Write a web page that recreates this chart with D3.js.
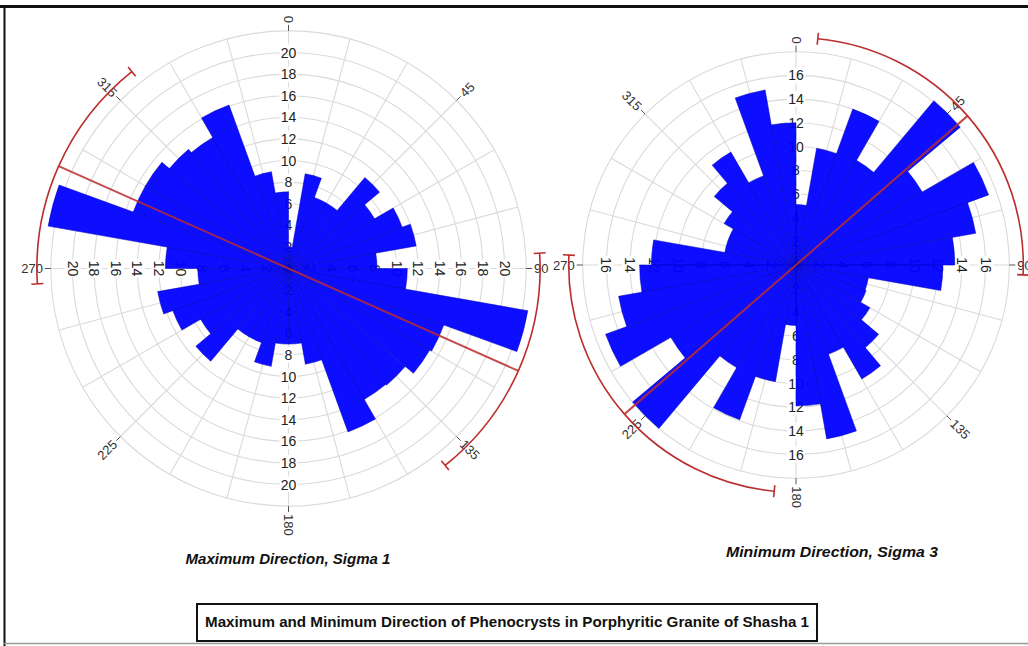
<!DOCTYPE html>
<html>
<head>
<meta charset="utf-8">
<script src="https://cdn.jsdelivr.net/npm/d3@7"></script>
<style>
  body { margin: 0; background: #fff; }
  svg { display: block; font-family: "Liberation Sans", Arial, sans-serif; }
</style>
</head>
<body>
<div id="chart"></div>
<script>
// rose diagram delle direzioni dei fenocristalli - classi da 10 gradi
const binStart = [0, 10, 20, 30, 40, 50, 60, 70, 80, 90, 100, 110, 120, 130, 140, 150, 160, 170,
                  180, 190, 200, 210, 220, 230, 240, 250, 260, 270, 280, 290, 300, 310, 320, 330, 340, 350];

// sigma 1 (direzione massima)
const sigma1Counts = [2, 8.9, 7, 7, 11, 9.2, 11.2, 12, 8.2, 11, 22.5, 15.3, 15.1, 14.1, 14, 16.1, 9, 7,
                      7, 9.2, 7.3, 7.3, 11.2, 9.4, 11.4, 12.3, 8.4, 11.4, 22.6, 15.3, 15.3, 14.4, 14, 16.1, 9.1, 7.1];
// sigma 3 (direzione minima)
const sigma3Counts = [5.1, 10, 14, 10.2, 18.1, 12.3, 17.3, 15.4, 13.4, 12.4, 6.2, 6.3, 7.2, 9.1, 11.1, 8, 14.9, 11.9,
                      5.1, 10, 13.9, 10, 18, 12.2, 17.1, 15.2, 13.2, 12.2, 6.1, 6.1, 7, 9, 11, 8, 15, 12];

const sigma1Ticks = [2, 4, 6, 8, 10, 12, 14, 16, 18, 20];
const sigma3Ticks = [2, 4, 6, 8, 10, 12, 14, 16];
const compassLabels = [0, 45, 90, 135, 180, 225, 270, 315];

// direzione media e intervallo di confidenza (gradi)
const sigma1Mean = 114, sigma1Conf = 27.5;
const sigma3Mean = 49,  sigma3Conf = 43.5;

const captions = ['Maximum Direction, Sigma 1', 'Minimum Direction, Sigma 3'];
const mainTitle = 'Maximum and Minimum Direction of Phenocrysts in Porphyritic Granite of Shasha 1';

const width = 1028, height = 646;
const svg = d3.select('#chart').append('svg')
    .attr('width', width)
    .attr('height', height);

// cornice
svg.append('line').attr('x1', 0).attr('x2', width).attr('y1', 6.5).attr('y2', 6.5)
    .attr('stroke', '#111').attr('stroke-width', 3);
svg.append('line').attr('x1', 4.5).attr('x2', 4.5).attr('y1', 6).attr('y2', height)
    .attr('stroke', '#111').attr('stroke-width', 2);
svg.append('line').attr('x1', 4).attr('x2', width).attr('y1', 643.5).attr('y2', 643.5)
    .attr('stroke', '#999').attr('stroke-width', 1.5);

const rad = d => d * Math.PI / 180;
const pt = (deg, rr) => [Math.sin(rad(deg)) * rr, -Math.cos(rad(deg)) * rr];

function drawRose(cfg) {
    const g = svg.append('g').attr('transform', `translate(${cfg.cx},${cfg.cy})`);
    const r = d3.scaleLinear().domain([0, cfg.max]).range([0, cfg.radius]);
    const R = r(cfg.max);
    const rArc = R + 14;

    // griglia: cerchi ogni 2 unità, raggi ogni 15°
    g.append('g').selectAll('circle')
        .data(d3.range(2, cfg.max + 1, 2))
        .join('circle')
        .attr('r', d => r(d))
        .attr('fill', 'none')
        .attr('stroke', '#dadada')
        .attr('stroke-width', 1.1);

    g.append('g').selectAll('line')
        .data(d3.range(0, 360, 15))
        .join('line')
        .attr('x1', 0).attr('y1', 0)
        .attr('x2', d => pt(d, R)[0])
        .attr('y2', d => pt(d, R)[1])
        .attr('stroke', '#dadada')
        .attr('stroke-width', 1.1);

    // etichette azimut con tacca - testo lungo il raggio
    const az = g.append('g');
    compassLabels.forEach(a => {
        const p0 = pt(a, R), p1 = pt(a, R + 6), pl = pt(a, R + 8);
        az.append('line')
            .attr('x1', p0[0]).attr('y1', p0[1])
            .attr('x2', p1[0]).attr('y2', p1[1])
            .attr('stroke', '#555').attr('stroke-width', 1);
        const outward = a <= 180;
        const rot = outward ? a - 90 : a - 270;
        az.append('text')
            .attr('transform', `translate(${pl[0]},${pl[1]}) rotate(${rot})`)
            .attr('text-anchor', outward ? 'start' : 'end')
            .attr('dominant-baseline', 'central')
            .attr('font-size', 13)
            .attr('fill', '#333')
            .text(a);
    });

    // etichette radiali sui 4 assi (sotto le barre)
    const lab = g.append('g');
    const axes = [
        { f: t => [0, -r(t)], rot: 0 },
        { f: t => [r(t), 0], rot: 90 },
        { f: t => [0, r(t)], rot: 0 },
        { f: t => [-r(t), 0], rot: 90 }
    ];
    axes.forEach(ax => {
        cfg.ticks.forEach(t => {
            const [x, y] = ax.f(t);
            const tg = lab.append('g').attr('transform', `translate(${x},${y}) rotate(${ax.rot})`);
            const w = String(t).length * 8 + 2;
            tg.append('rect')
                .attr('x', -w / 2).attr('y', -8)
                .attr('width', w).attr('height', 16)
                .attr('fill', '#fff');
            tg.append('text')
                .attr('text-anchor', 'middle')
                .attr('dominant-baseline', 'central')
                .attr('font-size', 14)
                .attr('fill', '#222')
                .text(t);
        });
    });

    // barre
    const arc = d3.arc()
        .innerRadius(0)
        .outerRadius(d => r(d.v))
        .startAngle(d => rad(d.a))
        .endAngle(d => rad(d.a + 10));

    g.append('g').selectAll('path')
        .data(binStart.map((a, i) => ({ a: a, v: cfg.counts[i] })))
        .join('path')
        .attr('d', arc)
        .attr('fill', '#0000ff')
        .attr('fill-opacity', 0.95)
        .attr('stroke', '#0000b8')
        .attr('stroke-width', 0.5);

    // direzione media + archi di confidenza
    const red = g.append('g').attr('stroke', '#bb2d2d').attr('fill', 'none');
    const e1 = pt(cfg.mean, rArc), e2 = pt(cfg.mean + 180, rArc);
    red.append('line')
        .attr('x1', e1[0]).attr('y1', e1[1])
        .attr('x2', e2[0]).attr('y2', e2[1])
        .attr('stroke-width', 2)
        .attr('stroke-opacity', 0.85);

    [cfg.mean, cfg.mean + 180].forEach(m => {
        const p = d3.path();
        p.arc(0, 0, rArc, rad(m - cfg.conf) - Math.PI / 2, rad(m + cfg.conf) - Math.PI / 2);
        red.append('path').attr('d', p.toString()).attr('stroke-width', 1.6);
        [m - cfg.conf, m + cfg.conf].forEach(e => {
            const a0 = pt(e, rArc - 6), a1 = pt(e, rArc + 6);
            red.append('line')
                .attr('x1', a0[0]).attr('y1', a0[1])
                .attr('x2', a1[0]).attr('y2', a1[1])
                .attr('stroke-width', 1.6);
        });
    });
}

drawRose({ cx: 288.5, cy: 268.5, max: 22, radius: 237.6, counts: sigma1Counts,
           ticks: sigma1Ticks, mean: sigma1Mean, conf: sigma1Conf });
drawRose({ cx: 796, cy: 265, max: 18, radius: 213.3, counts: sigma3Counts,
           ticks: sigma3Ticks, mean: sigma3Mean, conf: sigma3Conf });

// didascalie
svg.append('text')
    .attr('x', 288).attr('y', 564)
    .attr('text-anchor', 'middle')
    .attr('font-size', 15).attr('font-weight', 'bold').attr('font-style', 'italic')
    .attr('fill', '#111')
    .attr('textLength', 205).attr('lengthAdjust', 'spacingAndGlyphs')
    .text(captions[0]);
svg.append('text')
    .attr('x', 832).attr('y', 557)
    .attr('text-anchor', 'middle')
    .attr('font-size', 15).attr('font-weight', 'bold').attr('font-style', 'italic')
    .attr('fill', '#111')
    .attr('textLength', 212).attr('lengthAdjust', 'spacingAndGlyphs')
    .text(captions[1]);

// riquadro titolo
svg.append('rect')
    .attr('x', 197).attr('y', 604)
    .attr('width', 620).attr('height', 37)
    .attr('fill', '#fff')
    .attr('stroke', '#111').attr('stroke-width', 2);
svg.append('text')
    .attr('x', 507).attr('y', 627)
    .attr('text-anchor', 'middle')
    .attr('font-size', 14).attr('font-weight', 'bold')
    .attr('fill', '#111')
    .attr('textLength', 604).attr('lengthAdjust', 'spacingAndGlyphs')
    .text(mainTitle);
</script>
</body>
</html>
